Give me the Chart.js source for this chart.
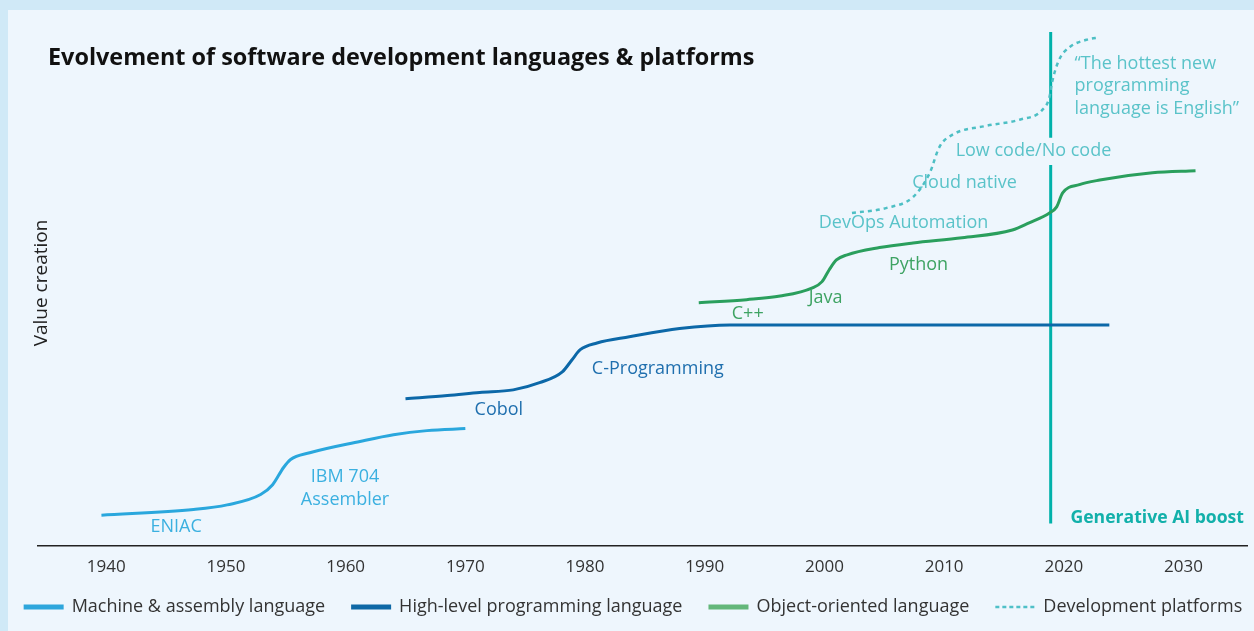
<!DOCTYPE html>
<html><head><meta charset="utf-8">
<script src="https://cdn.jsdelivr.net/npm/chart.js@4.4.1/dist/chart.umd.min.js"></script>
<style>html,body{margin:0;padding:0;background:#d0e9f7;overflow:hidden}</style>
</head><body>
<canvas id="c" width="1254" height="631"></canvas>
<script>
// ---- data (x = year, y = value creation index 0..100) ----
const tickYears = [1940,1950,1960,1970,1980,1990,2000,2010,2020,2030];

const machineYears  = [1939.6,1947.3,1950.1,1952.9,1953.9,1954.8,1955.4,1957.0,1961.2,1964.0,1966.8,1970.0];
const machineValues = [5.9,7.0,7.9,9.9,11.8,15.1,16.7,18.0,20.2,21.5,22.3,22.7];

const highYears  = [1965.0,1968.5,1971.2,1974.0,1976.2,1978.1,1978.9,1979.6,1981.0,1983.7,1987.9,1992.1,2023.8];
const highValues = [28.5,29.1,29.7,30.2,31.6,33.7,36.0,38.0,39.3,40.5,42.1,42.8,42.8];

const ooYears  = [1989.5,1993.5,1996.3,1999.0,1999.8,2000.4,2001.0,2001.9,2004.6,2007.4,2011.5,2015.7,2017.1,2018.8,2019.4,2019.9,2021.3,2023.0,2027.4,2031.0];
const ooValues = [47.1,47.7,48.4,50.0,51.2,53.5,55.4,56.4,57.8,58.7,59.7,61.2,62.6,64.5,65.7,68.4,70.0,70.9,72.3,72.7];

const platYears  = [2002.3,2005.2,2007.4,2008.8,2009.6,2010.7,2013.5,2016.3,2018.2,2018.8,2019.0,2019.6,2020.5,2021.9,2023.0];
const platValues = [64.5,65.5,67.6,72.3,77.3,79.7,81.4,82.6,84.5,87.0,89.7,94.2,96.7,98.1,98.6];

const aiBoostYear = 2018.9;
const aiBoostValues = [4.3, 73.8, null, 79.1, 99.6];

const seriesNames = ['Machine & assembly language','High-level programming language','Object-oriented language','Development platforms'];

// annotation labels (data coordinates)
const labelTexts = [
  ['ENIAC'], ['IBM 704','Assembler'], ['Cobol'], ['C-Programming'], ['C++'], ['Java'], ['Python'],
  ['DevOps Automation'], ['Cloud native'], ['Low code/No code'],
  ['\u201CThe hottest new','programming','language is English\u201D'], ['Generative AI boost']
];
const labelYears  = [1945.84,1959.95,1972.8,1986.08,1993.59,2000.1,2007.86,2006.61,2011.7,2017.46,2020.89,2020.55];
const labelValues = [3.68,11.1,26.36,34.3,44.96,48.06,54.46,62.6,70.35,76.55,89.15,5.43];
const labelGroup  = [0,0,1,1,2,2,2,3,3,3,3,4];

// ---- styles ----
const FONT = '"Open Sans", "Noto Sans", sans-serif';
const lineColors = ['#2aa7dd','#0c68a8','#2a9f5d','#4dbfc4'];
const legendColors = ['#2ea6dc','#0e68a6','#63b77a','#4fc0c8'];
const textColors = ['#3bb0e0','#1f6fae','#3ea363','#5ac3c9','#12b0aa'];

const toXY = (xs, ys) => xs.map((x,i)=>({x, y: ys[i]}));

const bgPlugin = {
  id:'bg',
  beforeDraw(chart){
    const ctx = chart.ctx;
    ctx.save();
    ctx.fillStyle = '#d0e9f7';
    ctx.fillRect(0,0,chart.width,chart.height);
    ctx.fillStyle = '#eef6fd';
    ctx.fillRect(8,10,chart.width-8,chart.height-10);
    ctx.restore();
  }
};

const textPlugin = {
  id:'texts',
  afterDatasetsDraw(chart){
    const ctx = chart.ctx, xs = chart.scales.x, ys = chart.scales.y;
    ctx.save();
    // title
    ctx.fillStyle = '#111';
    ctx.font = 'bold 23.4px ' + FONT;
    ctx.textAlign = 'left'; ctx.textBaseline = 'middle';
    ctx.fillText('Evolvement of software development languages & platforms', 48, 58);
    // y title
    ctx.save();
    ctx.translate(42, 283);
    ctx.rotate(-Math.PI/2);
    ctx.textAlign = 'center';
    ctx.font = '19px ' + FONT;
    ctx.fillStyle = '#222';
    ctx.fillText('Value creation', 0, 0);
    ctx.restore();
    // annotations
    labelTexts.forEach((lines, i) => {
      const g = labelGroup[i];
      const px = xs.getPixelForValue(labelYears[i]);
      const py = ys.getPixelForValue(labelValues[i]);
      const bold = (g === 4);
      const left = (i >= 10);
      ctx.font = (bold ? 'bold 17.6px ' : '18px ') + FONT;
      ctx.fillStyle = textColors[g];
      ctx.textAlign = left ? 'left' : 'center';
      const lh = 22.5;
      const y0 = py - (lines.length-1)*lh/2;
      lines.forEach((t, k) => ctx.fillText(t, px, y0 + k*lh));
    });
    // legend
    ctx.font = '18px ' + FONT;
    ctx.textAlign = 'left';
    const sw = 40, gapS = 8, gapI = 26;
    const widths = seriesNames.map(n => sw + gapS + ctx.measureText(n).width);
    const total = widths.reduce((a,b)=>a+b,0) + gapI*(widths.length-1);
    let x = 633 - total/2;
    const ly = 607;
    seriesNames.forEach((n,i)=>{
      ctx.strokeStyle = legendColors[i];
      if (i === 3) { ctx.lineWidth = 2.5; ctx.setLineDash([4,3]); }
      else { ctx.lineWidth = 5; ctx.setLineDash([]); }
      ctx.beginPath(); ctx.moveTo(x, ly); ctx.lineTo(x+sw, ly); ctx.stroke();
      ctx.setLineDash([]);
      ctx.fillStyle = '#333';
      ctx.fillText(n, x + sw + gapS, ly);
      x += widths[i] + gapI;
    });
    ctx.restore();
  }
};

const mk = (label, xs, ys, i, extra) => Object.assign({
  label, data: toXY(xs, ys), borderColor: lineColors[i], backgroundColor: lineColors[i],
  borderWidth: 3, pointRadius: 0, pointHoverRadius: 0, cubicInterpolationMode: 'monotone', fill: false
}, extra || {});

new Chart(document.getElementById('c'), {
  type: 'line',
  data: {
    datasets: [
      mk(seriesNames[0], machineYears, machineValues, 0),
      mk(seriesNames[1], highYears, highValues, 1),
      mk(seriesNames[2], ooYears, ooValues, 2),
      mk(seriesNames[3], platYears, platValues, 3, {borderWidth: 2.5, borderDash: [4,4]}),
      {
        label: 'Generative AI boost',
        data: aiBoostValues.map(v => ({x: aiBoostYear, y: v})),
        borderColor: '#00b1aa', borderWidth: 3, pointRadius: 0, tension: 0, spanGaps: false, fill: false
      }
    ]
  },
  options: {
    responsive: false, animation: false, events: [],
    layout: { padding: { left: 38, right: 7, top: 30, bottom: 43 } },
    plugins: { legend: { display: false }, title: { display: false }, tooltip: { enabled: false } },
    scales: {
      x: {
        type: 'linear', min: 1934.3, max: 2035.3,
        afterBuildTicks: s => { s.ticks = tickYears.map(v => ({value: v})); },
        grid: { display: false, drawTicks: false },
        border: { display: true, color: '#222', width: 1.5 },
        ticks: { color: '#333', padding: 11, font: { family: FONT, size: 17 }, callback: v => String(v), maxRotation: 0, autoSkip: false }
      },
      y: { display: false, min: 0, max: 100 }
    }
  },
  plugins: [bgPlugin, textPlugin]
});
</script>
</body></html>
